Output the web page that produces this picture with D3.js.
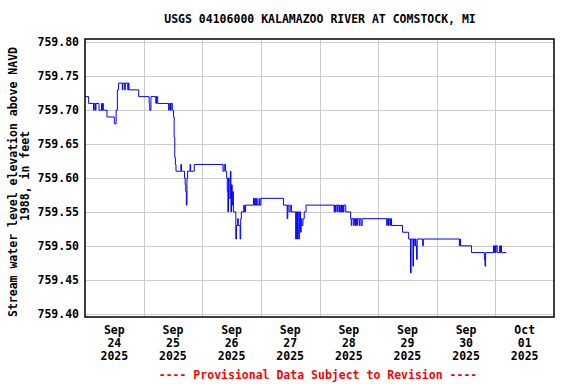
<!DOCTYPE html>
<html>
<head>
<meta charset="utf-8">
<script src="https://cdn.jsdelivr.net/npm/d3@7"></script>
<style>
    body { margin: 0; background: #fff; }
    text { font-family: "DejaVu Sans Mono", monospace; font-weight: bold; font-size: 11.5px; }
</style>
</head>
<body>
<div id="plot"></div>
<script>
window.onload = function () {
    generateGraph();
}

// hours since 2025-09-24 00:00 (step values, 15 minute data)
var hours = [
    0, 1.5, 3.5, 3.75, 4.25, 4.5, 5.75, 6.75, 7, 7.25, 7.5, 9, 12, 12.75, 13.25, 13.75,
    15.25, 15.5, 16.25, 16.5, 17.5, 17.75, 18, 22, 26.25, 26.5, 27, 29, 29.25, 29.75,
    34.25, 34.5, 35, 35.25, 35.75, 36.25, 36.5, 36.75, 37, 37.25, 39.25, 39.5,
    40.75, 41, 41.25, 41.5, 41.75, 42, 43, 43.25, 44.75,
    56.5, 57, 57.5, 58, 58.25, 58.5, 58.75, 59, 59.5, 59.75, 60, 60.25, 60.5, 60.75,
    61.75, 62, 62.5, 62.75, 63.5, 63.75, 64, 65, 65.25, 65.75,
    69, 69.25, 69.5, 69.75, 70.25, 70.5, 71.25, 71.5, 72,
    81.25, 82.75, 83, 83.5, 84, 84.5, 86.25, 86.5, 86.75, 87, 87.5, 87.75,
    88.25, 88.5, 88.75, 89.25, 89.75, 90.5,
    102, 102.25, 102.5, 102.75, 103.25, 103.5, 104, 104.25, 104.5, 105, 105.25, 105.5,
    105.75, 106, 106.75, 108.75, 109, 109.25, 110, 110.25, 110.75, 111, 111.25, 111.5,
    112.25, 112.5, 113, 113.5,
    123.5, 123.75, 124.25, 124.5, 125, 125.25, 125.5, 130, 132.5,
    133.25, 133.5, 134.25, 134.5, 135, 135.25, 135.5, 135.75, 136, 138.25, 138.5,
    153.25, 153.5, 153.75, 158.25, 163.5, 163.75, 164,
    167.25, 167.5, 167.75, 168, 168.25, 168.75, 169.75, 170, 170.25, 170.5, 172.5
];

var elevation = [
    759.72, 759.71, 759.70, 759.71, 759.70, 759.71, 759.70, 759.71, 759.70, 759.71, 759.70, 759.69, 759.68, 759.70, 759.73, 759.74,
    759.73, 759.74, 759.73, 759.74, 759.73, 759.74, 759.73, 759.72, 759.71, 759.70, 759.72, 759.71, 759.72, 759.71,
    759.70, 759.71, 759.70, 759.71, 759.70, 759.69, 759.66, 759.63, 759.62, 759.61, 759.62, 759.61,
    759.60, 759.59, 759.58, 759.56, 759.60, 759.61, 759.62, 759.61, 759.62,
    759.61, 759.62, 759.61, 759.60, 759.58, 759.55, 759.60, 759.57, 759.61, 759.55, 759.59, 759.56, 759.58, 759.55,
    759.51, 759.53, 759.54, 759.53, 759.51, 759.54, 759.55, 759.56, 759.55, 759.56,
    759.57, 759.56, 759.57, 759.56, 759.57, 759.56, 759.57, 759.56, 759.57,
    759.56, 759.54, 759.56, 759.55, 759.56, 759.55, 759.51, 759.55, 759.51, 759.55, 759.51, 759.55,
    759.52, 759.54, 759.53, 759.54, 759.55, 759.56,
    759.55, 759.56, 759.55, 759.56, 759.55, 759.56, 759.55, 759.56, 759.55, 759.56, 759.55, 759.56,
    759.55, 759.56, 759.55, 759.54, 759.53, 759.54, 759.53, 759.54, 759.53, 759.54, 759.53, 759.54,
    759.53, 759.54, 759.53, 759.54,
    759.53, 759.54, 759.53, 759.54, 759.53, 759.54, 759.53, 759.52, 759.51,
    759.46, 759.51, 759.47, 759.51, 759.50, 759.51, 759.50, 759.48, 759.51, 759.50, 759.51,
    759.50, 759.51, 759.50, 759.49, 759.48, 759.47, 759.49,
    759.50, 759.49, 759.50, 759.49, 759.50, 759.49, 759.50, 759.49, 759.50, 759.49, 759.49
];

var yTicks = [759.40, 759.45, 759.50, 759.55, 759.60, 759.65, 759.70, 759.75, 759.80];
var dayLabels = ["Sep 24 2025", "Sep 25 2025", "Sep 26 2025", "Sep 27 2025",
                 "Sep 28 2025", "Sep 29 2025", "Sep 30 2025", "Oct 01 2025"];

var title = "USGS 04106000 KALAMAZOO RIVER AT COMSTOCK, MI",
    yTitle = ["Stream water level elevation above NAVD", "1988, in feet"],
    footer = "---- Provisional Data Subject to Revision ----";

var margin = { top: 39, right: 22, bottom: 67, left: 85 }
    , width = 576 - margin.left - margin.right
    , height = 384 - margin.top - margin.bottom
    , t0 = new Date(2025, 8, 24);

function generateGraph(){

        var xScale = d3.scaleTime()
            .range([0, width])
            .domain([t0, d3.timeDay.offset(t0, 8)]);

        var yScale = d3.scaleLinear()
            .range([height, 0])
            .domain([759.395, 759.805]);

        var svg = d3.select("#plot").append("svg")
            .attr("width", 576)
            .attr("height", 384);

        var g = svg.append("g")
            .attr("transform", "translate(" + margin.left + "," + margin.top + ")");

        // grid
        g.append("g").selectAll("line")
            .data(yTicks)
            .enter().append("line")
            .attr("x1", 0).attr("x2", width)
            .attr("y1", function (d) { return Math.round(yScale(d)) + 0.5; })
            .attr("y2", function (d) { return Math.round(yScale(d)) + 0.5; })
            .style("stroke", "#cccccc");

        g.append("g").selectAll("line")
            .data(d3.timeDay.range(d3.timeDay.offset(t0, 1), d3.timeDay.offset(t0, 8)))
            .enter().append("line")
            .attr("y1", 0).attr("y2", height)
            .attr("x1", function (d) { return Math.round(xScale(d)) + 0.5; })
            .attr("x2", function (d) { return Math.round(xScale(d)) + 0.5; })
            .style("stroke", "#cccccc");

        // data
        var data = hours.map(function (h, i) {
            return { date: new Date(t0.getTime() + h * 3600e3), value: elevation[i] };
        });

        var plotLine = d3.line()
            .curve(d3.curveStepAfter)
            .x(function (d) { return xScale(d.date); })
            .y(function (d) { return yScale(d.value); });

        g.append("path")
            .datum(data)
            .attr("d", plotLine)
            .style("fill", "none")
            .style("stroke", "#0000ff")
            .style("stroke-width", 1);

        // frame
        g.append("rect")
            .attr("width", width).attr("height", height)
            .style("fill", "none")
            .style("stroke", "#000")
            .style("stroke-width", 1.5);

        // y labels
        g.append("g").selectAll("text")
            .data(yTicks)
            .enter().append("text")
            .attr("x", -6)
            .attr("y", function (d) { return yScale(d) + 4; })
            .attr("text-anchor", "end")
            .text(function (d) { return d.toFixed(2); });

        // x labels at mid-day
        var xl = g.append("g").selectAll("text")
            .data(dayLabels)
            .enter().append("text")
            .attr("text-anchor", "middle")
            .attr("transform", function (d, i) {
                return "translate(" + xScale(d3.timeHour.offset(d3.timeDay.offset(t0, i), 12)) + "," + (height + 17) + ")";
            });
        xl.selectAll("tspan")
            .data(function (d) { return d.split(" "); })
            .enter().append("tspan")
            .attr("x", 0)
            .attr("dy", function (d, i) { return i ? 13 : 0; })
            .text(function (d) { return d; });

        svg.append("text")
            .attr("x", 320).attr("y", 23)
            .attr("text-anchor", "middle")
            .text(title);

        svg.selectAll(".ytitle")
            .data(yTitle)
            .enter().append("text")
            .attr("class", "ytitle")
            .attr("text-anchor", "middle")
            .attr("transform", function (d, i) {
                return "translate(" + (i ? 28.5 : 16.5) + "," + (i ? 176 : 182) + ") rotate(-90)";
            })
            .text(function (d) { return d; });

        svg.append("text")
            .attr("x", 318).attr("y", 379)
            .attr("text-anchor", "middle")
            .style("fill", "#ff0000")
            .text(footer);
}
</script>
</body>
</html>
